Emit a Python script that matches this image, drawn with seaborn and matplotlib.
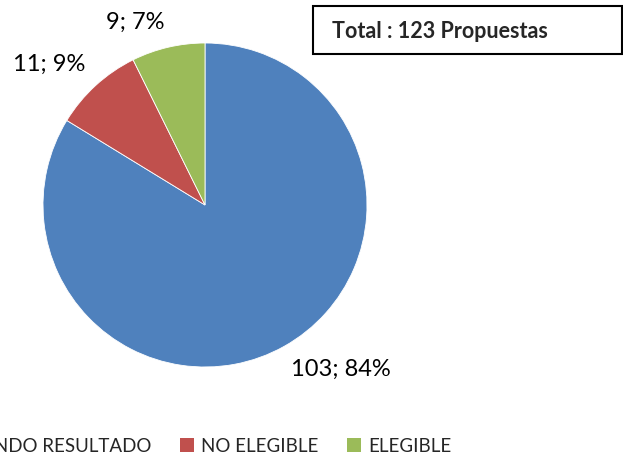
import matplotlib
matplotlib.use("Agg")
import matplotlib.pyplot as plt
import seaborn as sns
from matplotlib.patches import Patch

categories = ["ESPERANDO RESULTADO", "NO ELEGIBLE", "ELEGIBLE"]
counts = [103, 11, 9]
percents = [84, 9, 7]
colors = ["#4F81BD", "#C0504D", "#9BBB59"]
total_text = "Total : 123 Propuestas"

sns.set_theme(style="white")
plt.rcParams["font.family"] = ["Lato", "DejaVu Sans"]

fig = plt.figure(figsize=(6.23, 4.57), dpi=100)
W, H = 623, 457

# pie axes: centre (205, 205) px, radius 162 px
ax = fig.add_axes([43 / W, (H - 367) / H, 324 / W, 324 / H])
labels = [f"{c}; {p}%" for c, p in zip(counts, percents)]
wedges, texts = ax.pie(counts, colors=colors, startangle=90, counterclock=False,
                       labels=labels, labeldistance=1.09,
                       wedgeprops=dict(edgecolor="white", linewidth=0.6),
                       textprops=dict(fontsize=17, color="black"))
# excel style "outside end": corner of the label touches the anchor point
for t in texts:
    x, y = t.get_position()
    t.set_ha("left" if x > 0 else "right")
    t.set_va("top" if y < 0 else "bottom")
ax.set_xlim(-1, 1)
ax.set_ylim(-1, 1)
ax.set_aspect("equal")
ax.axis("off")

# total box
fig.text(332 / W, 1 - 31 / H, total_text, fontsize=15.5, fontweight="bold",
         ha="left", va="center")
fig.patches.append(plt.Rectangle((313 / W, 1 - 54 / H), 309 / W, 48 / H,
                                 transform=fig.transFigure, fill=False,
                                 edgecolor="black", linewidth=1.5))

handles = [Patch(facecolor=c, edgecolor="none") for c in colors]
fig.legend(handles, categories, ncol=3, loc="center left",
           bbox_to_anchor=(-0.18, 1 - 446 / H), frameon=False, fontsize=13.5,
           handlelength=0.75, handleheight=0.75, handletextpad=0.4,
           columnspacing=1.5)

fig.savefig("out.png", dpi=100)
